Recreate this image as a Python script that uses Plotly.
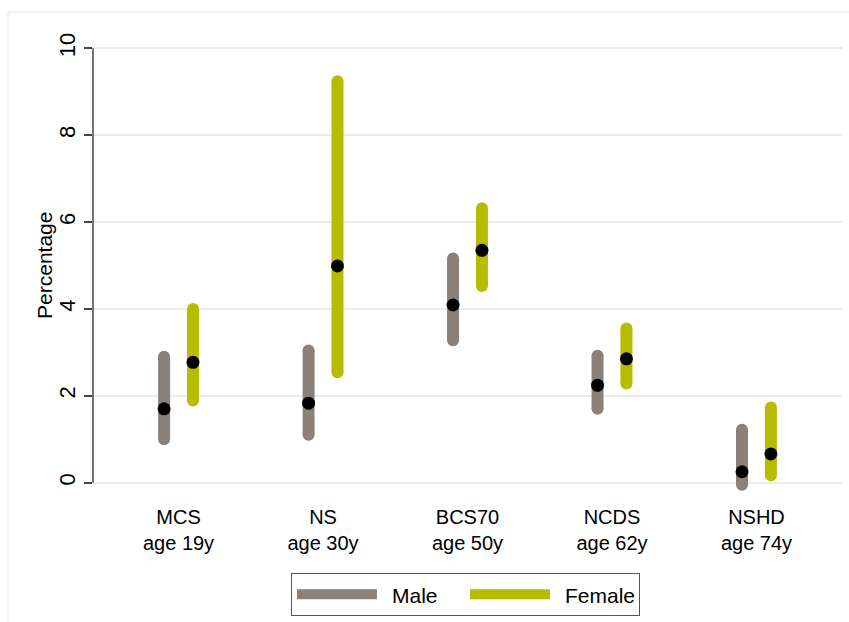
import plotly.graph_objects as go

# Cohorts and their age at survey
cohorts = ["MCS<br>age 19y", "NS<br>age 30y", "BCS70<br>age 50y", "NCDS<br>age 62y", "NSHD<br>age 74y"]

# Percentage estimates with 95% confidence intervals
male_est = [1.70, 1.83, 4.09, 2.24, 0.25]
male_lo = [1.00, 1.10, 3.28, 1.70, -0.05]
male_hi = [2.90, 3.04, 5.16, 2.92, 1.22]

female_est = [2.77, 4.99, 5.35, 2.85, 0.66]
female_lo = [1.89, 2.54, 4.53, 2.28, 0.17]
female_hi = [4.00, 9.24, 6.32, 3.55, 1.73]

y_ticks = [0, 2, 4, 6, 8, 10]

MALE_COL = "#8b8179"
FEMALE_COL = "#b6bd00"
FONT = "Liberation Sans, Arial, sans-serif"
OFFSET = 0.1
BAR_W = 12
PAD = "\u00a0\u2009"  # spacing between legend swatch and its label

fig = go.Figure()


def spikes(est, lo, hi, shift, colour, name):
    xs, ys, cap_x, cap_y = [], [], [], []
    for i in range(len(est)):
        xi = i + shift
        xs += [xi, xi, None]
        ys += [lo[i], hi[i], None]
        cap_x += [xi, xi]
        cap_y += [lo[i], hi[i]]
    # interval spike
    fig.add_trace(go.Scatter(x=xs, y=ys, mode="lines", name=PAD + name,
                             line=dict(color=colour, width=BAR_W),
                             hoverinfo="skip", showlegend=True))
    # rounded ends of the spike
    fig.add_trace(go.Scatter(x=cap_x, y=cap_y, mode="markers",
                             marker=dict(color=colour, size=BAR_W, line=dict(width=0)),
                             hoverinfo="skip", showlegend=False))


spikes(male_est, male_lo, male_hi, -OFFSET, MALE_COL, "Male")
spikes(female_est, female_lo, female_hi, OFFSET, FEMALE_COL, "Female")

# point estimates
fig.add_trace(go.Scatter(
    x=[i - OFFSET for i in range(len(male_est))] + [i + OFFSET for i in range(len(female_est))],
    y=male_est + female_est, mode="markers",
    marker=dict(color="black", size=13, line=dict(width=0)),
    showlegend=False))

fig.update_layout(
    width=849, height=622,
    margin=dict(l=93, r=7, t=44, b=121),
    paper_bgcolor="white", plot_bgcolor="white",
    font=dict(family=FONT, color="black"),
    xaxis=dict(
        range=[-0.592, 4.592], tickvals=list(range(len(cohorts))), ticktext=cohorts,
        showgrid=False, zeroline=False, showline=False, ticks="",
        tickfont=dict(size=20, family=FONT, color="black"), ticklabelstandoff=3,
    ),
    yaxis=dict(
        range=[-0.4, 10.1], tickvals=y_ticks, ticktext=[str(v) for v in y_ticks],
        tickangle=-90, ticks="outside", ticklen=8, tickwidth=1.5, tickcolor="#444444",
        showgrid=True, gridcolor="#ebebeb", gridwidth=1.5,
        zeroline=False, showline=False,
        tickfont=dict(size=22, family=FONT, color="black"),
    ),
    legend=dict(
        orientation="h", x=0.497, xanchor="center", y=-0.1575, yanchor="top",
        bordercolor="#555555", borderwidth=1.2, bgcolor="white",
        font=dict(size=21, family=FONT, color="black"), itemwidth=80,
        entrywidth=78, entrywidthmode="pixels",
    ),
    annotations=[
        dict(text="Percentage", xref="paper", yref="y", x=-0.0648, y=5,
             xanchor="center", yanchor="middle", textangle=-90, showarrow=False,
             font=dict(size=21, family=FONT, color="black")),
    ],
    shapes=[
        # y-axis line spanning the labelled range
        dict(type="line", xref="paper", yref="y", x0=0, x1=0, y0=0, y1=10,
             line=dict(color="#444444", width=1.5), layer="above"),
        # faint outer frame
        dict(type="rect", xref="paper", yref="paper", x0=-0.1135, x1=1.2, y0=-0.4, y1=1.07,
             line=dict(color="#eef1f1", width=1.5), layer="below"),
    ],
)

fig.write_html("out.html")
